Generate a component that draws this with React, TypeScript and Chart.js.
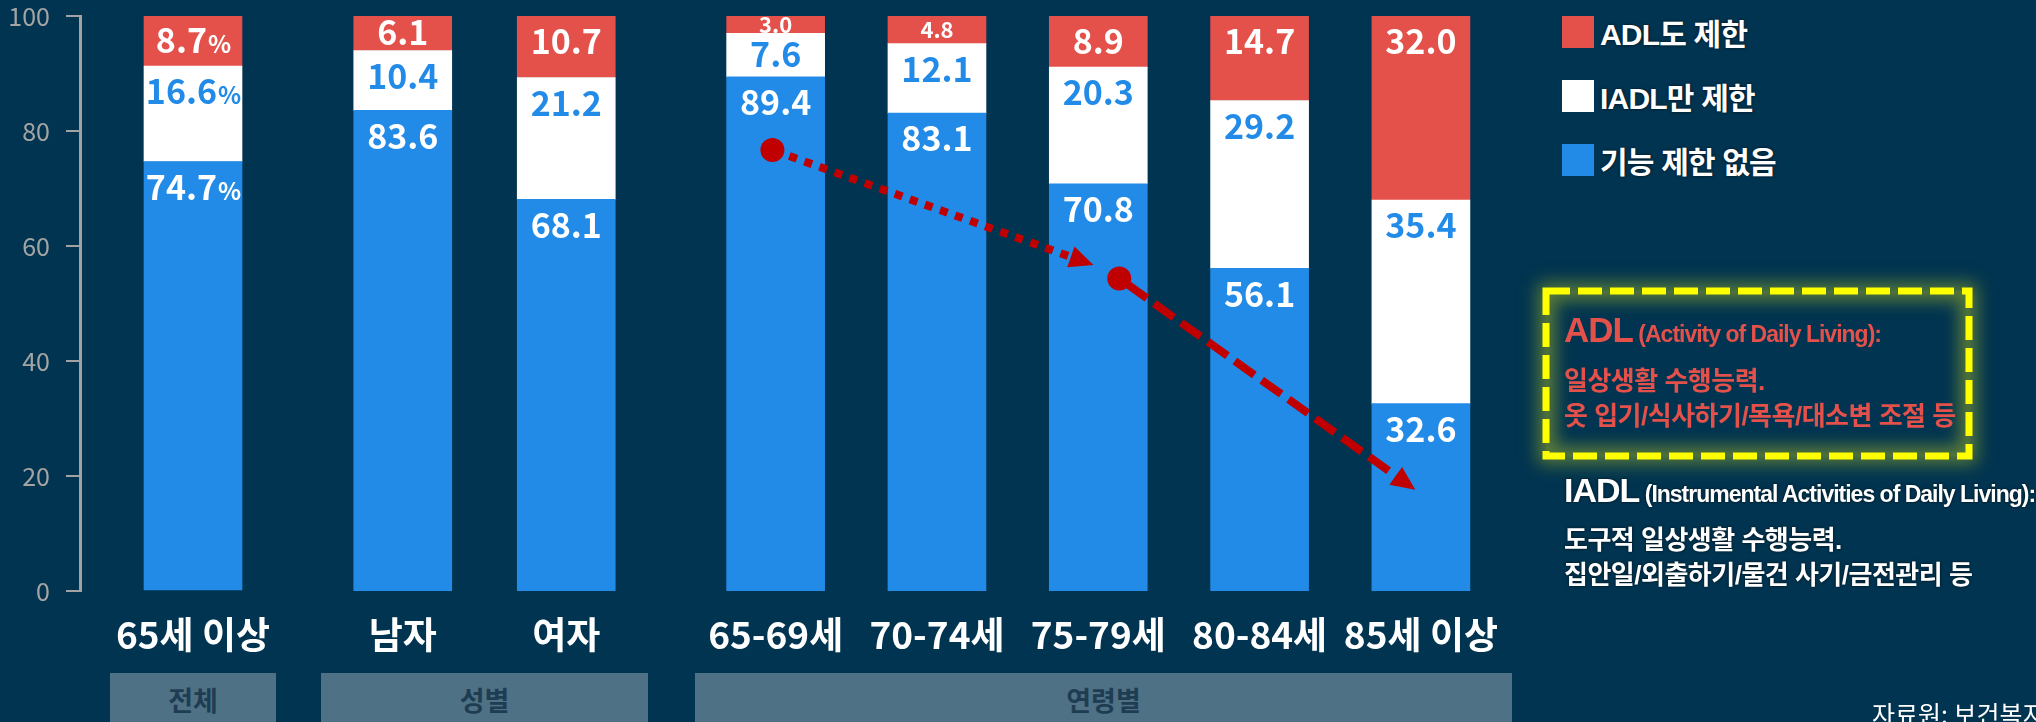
import React, { useEffect, useRef } from 'react';
import { Chart, registerables } from 'chart.js';

Chart.register(...registerables);

// ---------- data ----------
const totalLabels = ['65세 이상'];
const sexLabels = ['남자', '여자'];
const ageLabels = ['65-69세', '70-74세', '75-79세', '80-84세', '85세 이상'];

const totalNoLimit = [74.7];
const totalIadlOnly = [16.6];
const totalAdl = [8.7];

const sexNoLimit = [83.6, 68.1];
const sexIadlOnly = [10.4, 21.2];
const sexAdl = [6.1, 10.7];

const ageNoLimit = [89.4, 83.1, 70.8, 56.1, 32.6];
const ageIadlOnly = [7.6, 12.1, 20.3, 29.2, 35.4];
const ageAdl = [3.0, 4.8, 8.9, 14.7, 32.0];

const seriesNames = ['기능 제한 없음', 'IADL만 제한', 'ADL도 제한'];
const groupNames = ['전체', '성별', '연령별'];

// trend annotation on the age group (category index, value)
const trendDotCats = [-0.02, 2.13];
const trendDotVals = [76.7, 54.35];
const trendTipCats = [1.97, 3.965];
const trendTipVals = [56.7, 17.6];

// ---------- styles ----------
const BG = '#013450';
const BLUE = '#228be8';
const WHITE = '#ffffff';
const RED = '#e4514b';
const DARKRED = '#c00000';
const AXIS = '#a2a2a2';
const BAND = '#4e7185';
const BAND_TEXT = '#1f3d52';
const FONT = "'Noto Sans CJK KR', 'Noto Sans', sans-serif";
const HFONT = "'Liberation Sans', 'Noto Sans CJK KR', sans-serif";
const labelColors = ['#ffffff', BLUE, '#ffffff'];
const PAD_TOP = 31;
const CANVAS_TOP = -15;
const CANVAS_H = 676;

const valueLabelPlugin = {
  id: 'valueLabels',
  afterDatasetsDraw(chart: any) {
    const o = chart.options.plugins.valueLabels || {};
    const suffix = o.suffix || '';
    const ctx = chart.ctx;
    ctx.save();
    chart.data.datasets.forEach((ds: any, di: number) => {
      const meta = chart.getDatasetMeta(di);
      meta.data.forEach((bar: any, i: number) => {
        const v = ds.data[i];
        const p = bar.getProps(['x', 'y', 'base'], true);
        const top = Math.min(p.y, p.base);
        const bottom = Math.max(p.y, p.base);
        const small = v < 5;
        const size = small ? 22 : 34;
        const cy = Math.min(top + 26, (top + bottom) / 2);
        const text = v.toFixed(1);
        const mainFont = `bold ${size}px ${FONT}`;
        const sufFont = `bold ${Math.round(size * 0.72)}px ${FONT}`;
        ctx.font = mainFont;
        const w1 = ctx.measureText(text).width;
        ctx.font = sufFont;
        const w2 = suffix ? ctx.measureText(suffix).width : 0;
        const sx = p.x - (w1 + w2) / 2;
        const by = cy + size * 0.36;
        ctx.fillStyle = labelColors[di];
        ctx.textAlign = 'left';
        ctx.textBaseline = 'alphabetic';
        ctx.font = mainFont;
        ctx.fillText(text, sx, by);
        if (suffix) {
          ctx.font = sufFont;
          ctx.fillText(suffix, sx + w1 + 1, by);
        }
      });
    });
    ctx.restore();
  },
};

const trendPlugin = {
  id: 'trend',
  afterDatasetsDraw(chart: any) {
    const o = chart.options.plugins.trend || {};
    if (!o.enabled) return;
    const xs = chart.scales.x;
    const ys = chart.scales.y;
    const ctx = chart.ctx;
    ctx.save();
    ctx.fillStyle = DARKRED;
    ctx.strokeStyle = DARKRED;
    const r = 12;
    for (let i = 0; i < trendDotCats.length; i++) {
      const x0 = xs.getPixelForValue(trendDotCats[i]);
      const y0 = ys.getPixelForValue(trendDotVals[i]);
      const x1 = xs.getPixelForValue(trendTipCats[i]);
      const y1 = ys.getPixelForValue(trendTipVals[i]);
      const ang = Math.atan2(y1 - y0, x1 - x0);
      const c = Math.cos(ang), s = Math.sin(ang);
      const dotted = i === 0;
      const headLen = 24, headHalf = 11;
      const startOff = dotted ? r + 6 : r - 2;
      ctx.lineWidth = 8;
      ctx.setLineDash(dotted ? [8, 8] : [24, 9]);
      ctx.lineCap = 'butt';
      ctx.beginPath();
      ctx.moveTo(x0 + c * startOff, y0 + s * startOff);
      ctx.lineTo(x1 - c * (headLen - 2), y1 - s * (headLen - 2));
      ctx.stroke();
      ctx.setLineDash([]);
      const bx = x1 - c * headLen, by = y1 - s * headLen;
      ctx.beginPath();
      ctx.moveTo(x1, y1);
      ctx.lineTo(bx - s * headHalf, by + c * headHalf);
      ctx.lineTo(bx + s * headHalf, by - c * headHalf);
      ctx.closePath();
      ctx.fill();
      ctx.beginPath();
      ctx.arc(x0, y0, r, 0, Math.PI * 2);
      ctx.fill();
    }
    ctx.restore();
  },
};

function StackedGroup(props: any) {
  const { left, width, labels, blue, white, red, showY, suffix, trend } = props;
  const ref = useRef<HTMLCanvasElement>(null);
  useEffect(() => {
    const yScale: any = {
      stacked: true,
      min: 0,
      max: 100,
      display: showY,
      ticks: {
        stepSize: 20,
        color: '#a4a4a4',
        font: { family: FONT, size: 25 },
        padding: 16,
      },
      grid: {
        drawOnChartArea: false,
        drawTicks: true,
        tickLength: 14,
        color: AXIS,
        lineWidth: 2,
      },
      border: { display: true, color: AXIS, width: 3 },
    };
    if (showY) yScale.afterFit = (s: any) => { s.width = 80; };
    const chart = new Chart(ref.current as HTMLCanvasElement, {
      type: 'bar',
      data: {
        labels,
        datasets: [
          { label: seriesNames[0], data: blue, backgroundColor: BLUE, barThickness: 98 },
          { label: seriesNames[1], data: white, backgroundColor: WHITE, barThickness: 98 },
          { label: seriesNames[2], data: red, backgroundColor: RED, barThickness: 98 },
        ],
      },
      options: {
        responsive: false,
        animation: false,
        devicePixelRatio: 1,
        layout: { padding: { top: PAD_TOP, bottom: 0, left: 0, right: 0 } },
        plugins: {
          legend: { display: false },
          tooltip: { enabled: false },
          valueLabels: { suffix },
          trend: { enabled: !!trend },
        } as any,
        scales: {
          x: {
            stacked: true,
            grid: { display: false },
            border: { display: false },
            ticks: {
              color: '#ffffff',
              font: { family: FONT, size: 37, weight: 'bold' },
              padding: 14,
              maxRotation: 0,
              autoSkip: false,
            },
            afterFit: (s: any) => { s.height = 70; },
          },
          y: yScale,
        },
      } as any,
      plugins: [valueLabelPlugin, trendPlugin],
    });
    return () => chart.destroy();
  }, []);
  return (
    <canvas
      ref={ref}
      width={width}
      height={CANVAS_H}
      style={{ position: 'absolute', left, top: CANVAS_TOP, width, height: CANVAS_H, display: 'block' }}
    />
  );
}

function Band({ left, width, text }: any) {
  return (
    <div
      style={{
        position: 'absolute', left, top: 673, width, height: 60, background: BAND,
        color: BAND_TEXT, fontFamily: FONT, fontWeight: 700, fontSize: 27,
        lineHeight: '54px', textAlign: 'center',
      }}
    >
      {text}
    </div>
  );
}

const legendColors = [RED, WHITE, BLUE];
const legendNames = [seriesNames[2], seriesNames[1], seriesNames[0]];

export default function App() {
  const shadow = '0 0 3px rgba(0,0,0,0.7)';
  const kline: any = {
    position: 'absolute', left: 1564, lineHeight: '30px', fontSize: 26,
    fontFamily: HFONT, fontWeight: 700, letterSpacing: '-0.5px', whiteSpace: 'nowrap',
  };
  return (
    <div
      style={{
        position: 'absolute', left: 0, top: 0, width: 2036, height: 722,
        background: BG, overflow: 'hidden',
      }}
    >
      <StackedGroup left={0} width={306} labels={totalLabels} blue={totalNoLimit} white={totalIadlOnly} red={totalAdl} showY={true} suffix="%" />
      <StackedGroup left={321} width={327} labels={sexLabels} blue={sexNoLimit} white={sexIadlOnly} red={sexAdl} showY={false} suffix="" />
      <StackedGroup left={695} width={817} labels={ageLabels} blue={ageNoLimit} white={ageIadlOnly} red={ageAdl} showY={false} suffix="" trend={true} />

      <Band left={110} width={166} text={groupNames[0]} />
      <Band left={321} width={327} text={groupNames[1]} />
      <Band left={695} width={817} text={groupNames[2]} />

      {legendNames.map((n, i) => (
        <div key={n} style={{ position: 'absolute', left: 1562, top: 16 + i * 64, height: 32, display: 'flex', alignItems: 'center' }}>
          <div style={{ width: 32, height: 32, background: legendColors[i] }} />
          <div style={{ marginLeft: 6, color: '#fff', fontFamily: HFONT, fontWeight: 700, fontSize: 30, letterSpacing: '-0.8px', textShadow: shadow, whiteSpace: 'nowrap' }}>{n}</div>
        </div>
      ))}

      <div style={{
        position: 'absolute', left: 1546, top: 291, width: 423, height: 165,
        boxShadow: '0 0 16px 8px rgba(175,190,35,0.5), inset 0 0 16px 10px rgba(175,190,35,0.5)',
      }} />
      <svg style={{ position: 'absolute', left: 0, top: 0 }} width={2036} height={722}>
        <rect x={1546} y={291} width={423} height={165} fill="none" stroke="#ffff00" strokeWidth={7} strokeDasharray="24 8" />
      </svg>
      <div style={{ position: 'absolute', left: 1564, top: 310, lineHeight: '40px', color: RED, fontFamily: HFONT, fontWeight: 700, whiteSpace: 'nowrap' }}>
        <span style={{ fontSize: 35, letterSpacing: '-1px' }}>ADL</span>
        <span style={{ fontSize: 23, letterSpacing: '-1px' }}> (Activity of Daily Living):</span>
      </div>
      <div style={{ ...kline, top: 366, color: RED }}>일상생활 수행능력.</div>
      <div style={{ ...kline, top: 401, color: RED }}>옷 입기/식사하기/목욕/대소변 조절 등</div>

      <div style={{ position: 'absolute', left: 1564, top: 470, lineHeight: '40px', color: '#fff', fontFamily: HFONT, fontWeight: 700, whiteSpace: 'nowrap', textShadow: shadow }}>
        <span style={{ fontSize: 34, letterSpacing: '-1px' }}>IADL</span>
        <span style={{ fontSize: 23, letterSpacing: '-1px' }}> (Instrumental Activities of Daily Living):</span>
      </div>
      <div style={{ ...kline, top: 525, color: '#fff', textShadow: shadow }}>도구적 일상생활 수행능력.</div>
      <div style={{ ...kline, top: 560, color: '#fff', textShadow: shadow }}>집안일/외출하기/물건 사기/금전관리 등</div>

      <div style={{ position: 'absolute', left: 1872, top: 698, lineHeight: '30px', fontSize: 25, color: '#fff', fontFamily: FONT, whiteSpace: 'nowrap' }}>자료원: 보건복지부, 노인실태조사</div>
    </div>
  );
}
